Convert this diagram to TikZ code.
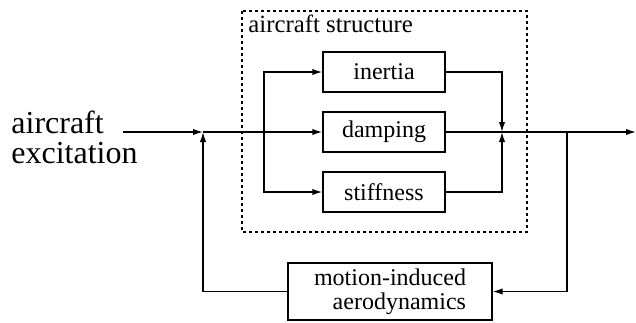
\documentclass[tikz,border=0pt]{standalone}
\usepackage{fontspec}
\setmainfont{Liberation Serif}
\usetikzlibrary{arrows.meta,positioning}

\tikzset{
  blockbox/.style={draw, line width=0.7pt, minimum width=61pt, minimum height=20pt, inner sep=0pt, font=\fontsize{12}{12}\selectfont},
  arr/.style={line width=0.7pt, -{Latex[length=5pt,width=3.2pt]}},
  wire/.style={line width=0.7pt},
  structframe/.style={line width=0.7pt, dash pattern=on 1.6pt off 1.4pt}
}

\begin{document}
\begin{tikzpicture}[x=0.5pt,y=-0.5pt]
\useasboundingbox (0,0) rectangle (636,322);
% structure frame
\draw[structframe] (242,11) rectangle (527,232);
\node[anchor=north west, inner sep=0pt, font=\fontsize{12.4}{12}\selectfont] (structlbl) at (248,15) {aircraft structure};
% blocks
\node[blockbox] (inertia) at (384,72) {inertia};
\node[blockbox] (damping) at (384,132) {damping};
\node[blockbox] (stiffness) at (384,192) {stiffness};
\node[blockbox, minimum width=102pt, minimum height=28.5pt, align=right] (aero) at (390,291.5) {motion-induced\\aerodynamics};
% input text
\node[anchor=west, inner sep=0pt, align=left, font=\fontsize{16}{15}\selectfont] (exc) at (11,137) {aircraft\\excitation};
% junctions
\coordinate (in) at (123,132);
\coordinate (sj1) at (203,132);
\coordinate (br) at (264,132);
\coordinate (sj2) at (502,132);
\coordinate (tap) at (567,132);
\coordinate (out) at (636,132);
% connectors
\draw[arr] (in) -- (sj1);
\draw[arr] (sj1) -- (damping.west);
\draw[arr] (br) |- (inertia.west);
\draw[arr] (br) |- (stiffness.west);
\draw[arr] (inertia.east) -| (sj2);
\draw[arr] (stiffness.east) -| (sj2);
\draw[arr] (damping.east) -- (out);
\draw[arr] (tap) |- (aero.east);
\draw[arr] (aero.west) -| (sj1);
\end{tikzpicture}
\end{document}
